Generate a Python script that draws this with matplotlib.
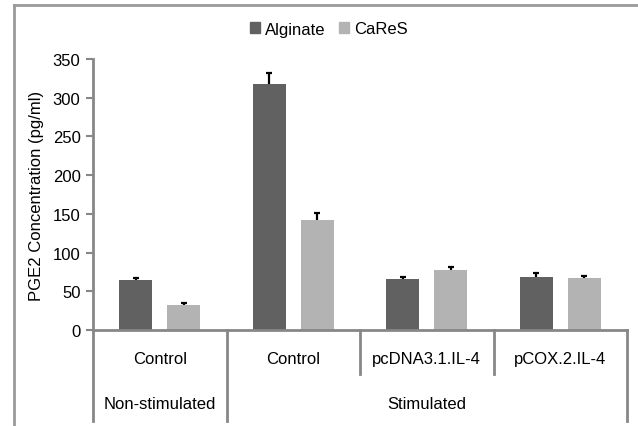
import matplotlib
matplotlib.use("Agg")
import matplotlib.pyplot as plt
from matplotlib.lines import Line2D
from matplotlib.patches import Patch
import numpy as np

plt.rcParams['font.family'] = ['Liberation Sans', 'DejaVu Sans']

# Data
conditions = ["Control", "Control", "pcDNA3.1.IL-4", "pCOX.2.IL-4"]
groups = ["Non-stimulated", "Stimulated"]
group_spans = [(0, 1), (1, 4)]
series_names = ["Alginate", "CaReS"]
alginate = [65, 317.5, 66.5, 69]
alginate_err = [2.5, 15, 2.5, 4.5]
cares = [32.5, 142.5, 78, 67.5]
cares_err = [2, 8.5, 4, 2.5]

dark = "#606160"
light = "#b3b3b3"
axis_gray = "#878787"

fig = plt.figure(figsize=(6.38, 4.27), dpi=100)
ax = fig.add_axes([93/638, 1-331/427, (627-93)/638, (331-60)/427])

x = np.arange(len(conditions))
w = 0.25
off = 0.18
ax.bar(x - off, alginate, w, color=dark, label=series_names[0], zorder=2)
ax.bar(x + off, cares, w, color=light, label=series_names[1], zorder=2)


def plus_errorbars(xs, ys, errs):
    # one-sided (upper) error bars with a cap only at the top
    _, caps, _ = ax.errorbar(xs, ys, yerr=[np.zeros(len(xs)), errs], fmt='none',
                             ecolor='black', elinewidth=1.6, capsize=2.5,
                             capthick=1.6, zorder=3)
    caps[0].set_visible(False)


plus_errorbars(x - off, alginate, alginate_err)
plus_errorbars(x + off, cares, cares_err)

ax.set_xlim(-0.5, len(conditions) - 0.5)
ax.set_ylim(0, 350)
ax.set_yticks(np.arange(0, 351, 50))
ax.tick_params(axis='y', labelsize=12, length=5, width=1.5, color=axis_gray, pad=4)
ax.set_xticks([])
for s in ['top', 'right']:
    ax.spines[s].set_visible(False)
for s in ['left', 'bottom']:
    ax.spines[s].set_color(axis_gray)
    ax.spines[s].set_linewidth(2)
ax.set_ylabel("PGE2 Concentration (pg/ml)", fontsize=12, labelpad=6)

# Two-level category axis
trans = ax.get_xaxis_transform()
inner_bottom = -0.162
outer_bottom = -0.336
for i in range(len(conditions) + 1):
    xb = i - 0.5
    is_outer = any(xb == a - 0.5 or xb == b - 0.5 for a, b in group_spans)
    yb = outer_bottom if is_outer else inner_bottom
    ax.add_line(Line2D([xb, xb], [0, yb], transform=trans, color=axis_gray,
                       lw=2, clip_on=False))
for i, c in enumerate(conditions):
    ax.text(i, -0.107, c, transform=trans, ha='center', va='center', fontsize=12)
for g, (a, b) in zip(groups, group_spans):
    ax.text((a + b - 1) / 2, -0.27, g, transform=trans, ha='center', va='center',
            fontsize=12)

# Legend
handles = [Patch(color=dark), Patch(color=light)]
fig.legend(handles, series_names, loc='center', bbox_to_anchor=(329/638, 1-30/427),
           ncol=2, frameon=False, fontsize=12, handlelength=0.6, handleheight=0.6,
           handletextpad=0.3, columnspacing=0.8)

# Outer frame
fig.add_artist(Line2D([14/638, 14/638], [0, 1-6/427], transform=fig.transFigure,
                      color="#9a9a9a", lw=2))
fig.add_artist(Line2D([14/638, 1], [1-6/427, 1-6/427], transform=fig.transFigure,
                      color="#9a9a9a", lw=2))

fig.savefig("out.png", dpi=100)
